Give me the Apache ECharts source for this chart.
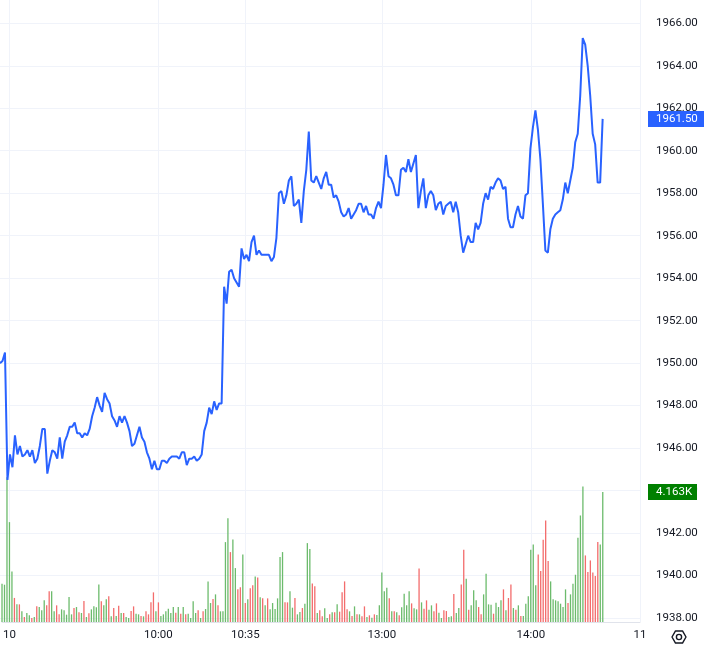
<!DOCTYPE html>
<html>
<head>
<meta charset="utf-8">
<script src="https://cdn.jsdelivr.net/npm/echarts@6/dist/echarts.min.js"></script>
<style>
    html, body { margin: 0; padding: 0; background: #fff; }
    #main { width: 706px; height: 646px; }
</style>
</head>
<body>
<div id="main"></div>
<script>
// 交易时段: [日期, 开始时间, 分钟数]
var sessions = [['09', '14:57', 3], ['10', '09:00', 150], ['10', '13:00', 104], ['11', '09:00', 1]];

// x轴只显示这几个刻度
var tickCats = ['10 09:00', '10 10:00', '10 10:35', '10 13:00', '10 14:00', '11 09:00'];
var tickTexts = ['10', '10:00', '10:35', '13:00', '14:00', '11'];

// 每分钟收盘价
var prices = [
    1950.0, 1950.1, 1950.5, 1944.5, 1945.7, 1945.1, 1946.6, 1945.7, 1946.1, 1945.6,
    1945.7, 1945.9, 1945.6, 1945.9, 1945.3, 1945.5, 1946.1, 1946.9, 1946.9, 1944.8,
    1945.4, 1945.9, 1945.8, 1945.5, 1946.5, 1945.5, 1946.3, 1946.6, 1947.0, 1947.0,
    1947.2, 1946.7, 1946.7, 1946.5, 1946.7, 1946.6, 1946.9, 1947.5, 1947.9, 1948.4,
    1948.0, 1947.7, 1948.6, 1948.3, 1948.1, 1947.5, 1947.3, 1947.0, 1947.5, 1947.2,
    1947.5, 1947.2, 1946.8, 1946.1, 1946.2, 1946.6, 1947.0, 1946.5, 1946.3, 1945.8,
    1945.5, 1945.0, 1945.4, 1945.0, 1945.0, 1945.4, 1945.4, 1945.3, 1945.5, 1945.6,
    1945.6, 1945.6, 1945.5, 1945.8, 1945.8, 1945.2, 1945.5, 1945.5, 1945.6, 1945.4,
    1945.5, 1945.7, 1946.8, 1947.2, 1947.9, 1947.6, 1948.2, 1947.8, 1948.1, 1948.1,
    1953.6, 1952.8, 1954.3, 1954.4, 1954.0, 1953.8, 1953.6, 1955.4, 1954.9, 1955.1,
    1954.8, 1955.7, 1956.0, 1955.1, 1955.3, 1955.1, 1955.1, 1955.1, 1955.1, 1954.8,
    1955.0, 1955.9, 1958.0, 1958.1, 1957.5, 1957.9, 1958.6, 1958.8, 1957.4, 1957.5,
    1957.7, 1956.6, 1958.1, 1959.1, 1960.9, 1958.6, 1958.5, 1958.8, 1958.5, 1958.2,
    1958.7, 1959.0, 1958.4, 1958.4, 1957.8, 1957.9, 1957.6, 1957.1, 1956.9, 1957.0,
    1957.3, 1956.8, 1957.0, 1957.2, 1957.5, 1957.5, 1957.1, 1957.4, 1957.0, 1957.0,
    1956.8, 1957.3, 1957.6, 1957.3, 1958.4, 1959.8, 1958.8, 1958.7, 1958.4, 1957.9,
    1957.9, 1959.1, 1959.2, 1959.0, 1959.6, 1959.0, 1959.4, 1959.8, 1957.3, 1958.1,
    1958.7, 1957.3, 1957.9, 1958.1, 1957.9, 1957.2, 1957.5, 1957.6, 1957.0, 1957.4,
    1957.5, 1957.6, 1957.1, 1957.6, 1957.1, 1956.0, 1955.2, 1955.6, 1956.0, 1955.7,
    1955.7, 1956.6, 1956.3, 1956.6, 1957.5, 1958.0, 1957.7, 1958.3, 1958.2, 1958.5,
    1958.7, 1958.6, 1958.2, 1958.3, 1956.8, 1956.4, 1956.4, 1957.0, 1957.4, 1956.9,
    1956.8, 1957.9, 1958.0, 1960.1, 1961.1, 1961.9, 1961.0, 1959.6, 1957.5, 1955.3,
    1955.2, 1956.3, 1956.8, 1957.0, 1957.1, 1957.2, 1957.7, 1958.5, 1958.0, 1958.6,
    1959.2, 1960.4, 1960.8, 1962.6, 1965.3, 1965.0, 1964.0, 1962.6, 1960.8, 1960.3,
    1958.5, 1958.5, 1961.5
];

// 成交量
var volumes = [
    1225, 1193, 4633, 3195, 1619, 770, 564, 564, 341, 160,
    288, 213, 128, 160, 500, 479, 373, 692, 533, 980,
    980, 341, 533, 245, 405, 373, 234, 799, 245, 447,
    479, 309, 288, 671, 160, 277, 405, 500, 469, 1203,
    660, 533, 724, 820, 181, 447, 192, 522, 288, 288,
    160, 128, 351, 500, 266, 245, 192, 181, 341, 245,
    628, 948, 341, 628, 192, 245, 341, 426, 288, 479,
    298, 479, 266, 479, 245, 266, 128, 660, 288, 373,
    128, 341, 415, 1299, 607, 735, 884, 533, 341, 341,
    2556, 3323, 2237, 2641, 1725, 1044, 1108, 2162, 607, 724,
    1076, 1172, 1459, 1427, 788, 756, 533, 756, 405, 607,
    415, 756, 2077, 2237, 628, 628, 980, 458, 767, 245,
    320, 447, 586, 2524, 2332, 1230, 1140, 288, 373, 181,
    437, 128, 245, 309, 309, 564, 330, 948, 1299, 405,
    341, 192, 500, 245, 245, 181, 500, 160, 213, 138,
    245, 224, 533, 1587, 980, 1097, 756, 341, 341, 309,
    213, 469, 905, 533, 980, 596, 437, 405, 1715, 628,
    426, 692, 394, 533, 341, 596, 298, 128, 373, 351,
    160, 181, 895, 288, 447, 1203, 2311, 1385, 394, 533,
    1012, 692, 479, 245, 884, 1544, 564, 554, 266, 618,
    479, 692, 1044, 373, 767, 1203, 447, 394, 533, 192,
    192, 586, 820, 2311, 2481, 1172, 2162, 1629, 2631, 3248,
    1949, 1299, 724, 692, 660, 586, 479, 1044, 607, 884,
    1225, 1512, 2694, 3408, 4335, 2130, 1598, 1970, 1587, 1470,
    2556, 2481, 4163
];

// 1 = 阳线量(绿), 0 = 阴线量(红)
var volUp = [
    1, 1, 1, 1, 1, 0, 1, 0, 1, 0,
    1, 1, 0, 1, 0, 1, 1, 1, 0, 0,
    1, 1, 0, 0, 1, 1, 1, 1, 1, 0,
    1, 0, 1, 0, 1, 0, 1, 1, 1, 1,
    0, 1, 1, 0, 1, 0, 1, 0, 1, 0,
    1, 1, 0, 0, 1, 1, 0, 1, 0, 0,
    0, 0, 1, 0, 1, 1, 1, 1, 1, 1,
    0, 1, 0, 1, 0, 1, 1, 1, 1, 0,
    1, 0, 1, 1, 1, 0, 1, 0, 1, 1,
    1, 1, 0, 1, 1, 0, 0, 1, 0, 1,
    0, 0, 1, 0, 1, 0, 1, 0, 1, 1,
    1, 1, 1, 1, 0, 0, 1, 1, 0, 1,
    1, 0, 1, 1, 1, 0, 0, 1, 0, 0,
    1, 1, 0, 1, 0, 1, 0, 0, 0, 0,
    1, 0, 1, 0, 1, 0, 0, 1, 0, 1,
    0, 1, 1, 1, 1, 1, 0, 1, 0, 1,
    0, 1, 1, 1, 1, 0, 1, 1, 0, 1,
    0, 0, 1, 1, 0, 0, 1, 1, 0, 0,
    1, 1, 0, 1, 1, 0, 0, 1, 0, 1,
    1, 1, 0, 0, 1, 1, 1, 1, 0, 1,
    1, 1, 0, 1, 0, 0, 1, 0, 1, 0,
    1, 1, 1, 1, 1, 1, 0, 0, 0, 0,
    0, 1, 1, 1, 1, 1, 1, 1, 0, 1,
    1, 1, 1, 1, 1, 0, 0, 0, 0, 0,
    0, 1, 1
];

function pad(n) {
    return (n < 10 ? '0' : '') + n;
}

// 按时段生成分钟类目
var categories = [];
sessions.forEach(function (s) {
    var hm = s[1].split(':');
    var t = parseInt(hm[0], 10) * 60 + parseInt(hm[1], 10);
    for (var k = 0; k < s[2]; k++, t++) {
        categories.push(s[0] + ' ' + pad(Math.floor(t / 60)) + ':' + pad(t % 60));
    }
});

function isTick(index, value) {
    return tickCats.indexOf(value) >= 0;
}

var FONT = 'Roboto';
var TEXT = '#131722';
var GRID_LINE = '#f0f3fa';

var myChart = echarts.init(document.getElementById('main'));
var option = {
    animation: false,
    grid: [
        // 价格
        { left: 0, right: 66, top: 23.3, bottom: 28 },
        // 成交量（整高，x轴在它下面）
        { left: 0, right: 66, top: 0, bottom: 24 }
    ],
    xAxis: [{
        type: 'category',
        gridIndex: 0,
        data: categories,
        boundaryGap: false,
        show: false
    }, {
        type: 'category',
        gridIndex: 1,
        data: categories,
        boundaryGap: false,
        axisLine: { lineStyle: { color: '#e0e3eb', width: 1 } },
        axisTick: { show: false },
        axisLabel: {
            interval: isTick,
            formatter: function (v) {
                return tickTexts[tickCats.indexOf(v)];
            },
            color: TEXT,
            fontFamily: FONT,
            fontSize: 11.5,
            margin: 7
        },
        splitLine: {
            show: true,
            interval: isTick,
            lineStyle: { color: GRID_LINE, width: 1 }
        }
    }],
    yAxis: [{
        type: 'value',
        gridIndex: 0,
        position: 'right',
        min: 1938,
        max: 1966,
        interval: 2,
        axisLine: { show: false },
        axisTick: { show: false },
        axisLabel: {
            color: TEXT,
            fontFamily: FONT,
            fontSize: 11.5,
            margin: 16,
            formatter: function (v) { return v.toFixed(2); }
        },
        splitLine: { lineStyle: { color: GRID_LINE, width: 1 } }
    }, {
        type: 'value',
        gridIndex: 1,
        min: 0,
        max: 19900,
        show: false,
        splitLine: { show: false }
    }],
    series: [{
        name: '成交量',
        type: 'bar',
        xAxisIndex: 1,
        yAxisIndex: 1,
        data: volumes,
        barWidth: 1.3,
        itemStyle: {
            color: function (p) {
                return volUp[p.dataIndex] ? '#6cbb6c' : '#f36c6c';
            }
        }
    }, {
        name: '价格',
        type: 'line',
        xAxisIndex: 0,
        yAxisIndex: 0,
        data: prices,
        showSymbol: false,
        lineStyle: { color: '#2962ff', width: 2 },
        z: 3
    }]
};
myChart.setOption(option);

// 右侧最新价 / 最新量标签
var lastPrice = prices[prices.length - 1];
var lastVol = volumes[volumes.length - 1];
var yPrice = myChart.convertToPixel({ yAxisIndex: 0 }, lastPrice);
var yVol = myChart.convertToPixel({ yAxisIndex: 1 }, lastVol);

function tag(y, w, bg, text) {
    return [{
        type: 'rect',
        z: 100,
        shape: { x: 648, y: y - 8, width: w, height: 16 },
        style: { fill: bg }
    }, {
        type: 'text',
        z: 101,
        style: {
            x: 656, y: y, text: text, fill: '#fff',
            font: '11.5px ' + FONT,
            textVerticalAlign: 'middle'
        }
    }];
}

// 设置按钮（六边形）
var hex = [];
for (var a = 0; a < 6; a++) {
    var ang = Math.PI / 3 * a;
    hex.push([679 + 7 * Math.cos(ang), 637 + 7 * Math.sin(ang)]);
}

var graphics = []
    .concat(tag(yPrice, 56, '#2962ff', lastPrice.toFixed(2)))
    .concat(tag(yVol, 49, '#008000', (lastVol / 1000).toFixed(3) + 'K'))
    .concat([{
        type: 'polygon',
        z: 100,
        shape: { points: hex },
        style: { fill: 'none', stroke: TEXT, lineWidth: 1.4, lineJoin: 'round' }
    }, {
        type: 'circle',
        z: 100,
        shape: { cx: 679, cy: 637, r: 2.6 },
        style: { fill: 'none', stroke: TEXT, lineWidth: 1.4 }
    }]);

myChart.setOption({ graphic: graphics });

window.addEventListener('resize', function () {
    myChart.resize();
});
</script>
</body>
</html>
